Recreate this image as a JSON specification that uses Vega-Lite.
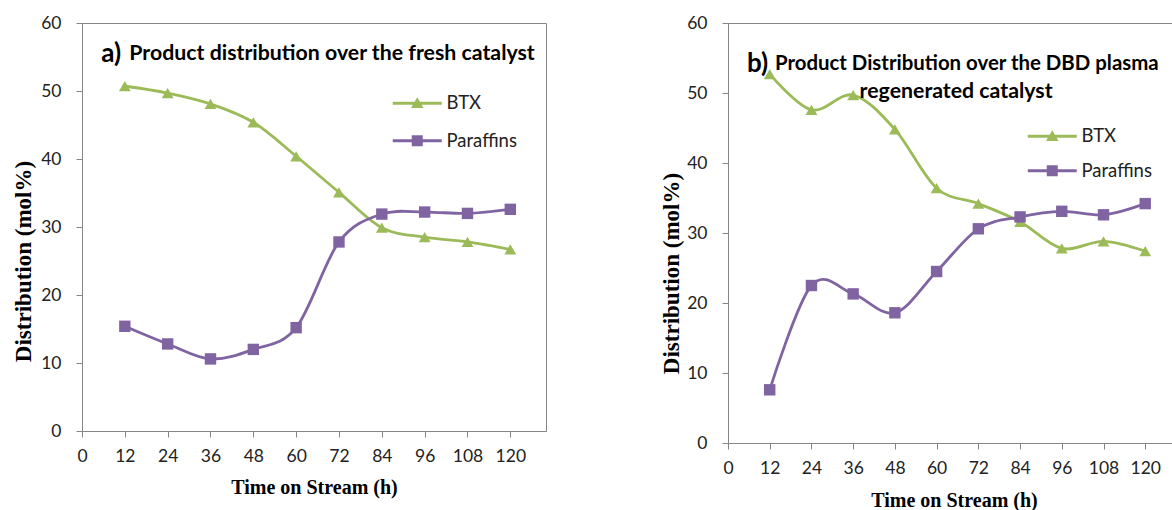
{
  "$schema": "https://vega.github.io/schema/vega-lite/v6.json",
  "background": "white",
  "padding": {"left": 11, "top": 13, "right": 0, "bottom": 0},
  "spacing": 113,
  "config": {
    "view": {"stroke": "#868686", "strokeWidth": 1},
    "axis": {
      "grid": false,
      "domainColor": "#868686",
      "tickColor": "#868686",
      "tickSize": 6,
      "labelFont": "Lato",
      "labelFontSize": 17.5,
      "labelColor": "#222222",
      "titleFont": "Liberation Serif",
      "titleFontSize": 20,
      "titleFontWeight": "bold",
      "titleColor": "#000000"
    },
    "legend": {
      "labelFont": "Lato",
      "labelFontSize": 18.5,
      "labelColor": "#222222"
    }
  },
  "datasets": {
    "fresh": [
      {"t": 12, "series": "BTX", "v": 50.7},
      {"t": 24, "series": "BTX", "v": 49.7},
      {"t": 36, "series": "BTX", "v": 48.1},
      {"t": 48, "series": "BTX", "v": 45.4},
      {"t": 60, "series": "BTX", "v": 40.4},
      {"t": 72, "series": "BTX", "v": 35.1},
      {"t": 84, "series": "BTX", "v": 29.9},
      {"t": 96, "series": "BTX", "v": 28.5},
      {"t": 108, "series": "BTX", "v": 27.8},
      {"t": 120, "series": "BTX", "v": 26.7},
      {"t": 12, "series": "Paraffins", "v": 15.4},
      {"t": 24, "series": "Paraffins", "v": 12.8},
      {"t": 36, "series": "Paraffins", "v": 10.6},
      {"t": 48, "series": "Paraffins", "v": 12.0},
      {"t": 60, "series": "Paraffins", "v": 15.2},
      {"t": 72, "series": "Paraffins", "v": 27.8},
      {"t": 84, "series": "Paraffins", "v": 31.9},
      {"t": 96, "series": "Paraffins", "v": 32.2},
      {"t": 108, "series": "Paraffins", "v": 32.0},
      {"t": 120, "series": "Paraffins", "v": 32.6}
    ],
    "regen": [
      {"t": 12, "series": "BTX", "v": 52.7},
      {"t": 24, "series": "BTX", "v": 47.6},
      {"t": 36, "series": "BTX", "v": 49.7},
      {"t": 48, "series": "BTX", "v": 44.8},
      {"t": 60, "series": "BTX", "v": 36.4},
      {"t": 72, "series": "BTX", "v": 34.2},
      {"t": 84, "series": "BTX", "v": 31.6},
      {"t": 96, "series": "BTX", "v": 27.8},
      {"t": 108, "series": "BTX", "v": 28.8},
      {"t": 120, "series": "BTX", "v": 27.4},
      {"t": 12, "series": "Paraffins", "v": 7.6},
      {"t": 24, "series": "Paraffins", "v": 22.5},
      {"t": 36, "series": "Paraffins", "v": 21.3},
      {"t": 48, "series": "Paraffins", "v": 18.6},
      {"t": 60, "series": "Paraffins", "v": 24.5},
      {"t": 72, "series": "Paraffins", "v": 30.6},
      {"t": 84, "series": "Paraffins", "v": 32.3},
      {"t": 96, "series": "Paraffins", "v": 33.1},
      {"t": 108, "series": "Paraffins", "v": 32.6},
      {"t": 120, "series": "Paraffins", "v": 34.2}
    ],
    "titlesA": [
      {"tx": 5.4, "ty": 55.5, "label": "a)", "size": 26},
      {"tx": 13.25, "ty": 55.5, "label": "Product distribution over the fresh catalyst", "size": 21.3}
    ],
    "titlesB": [
      {"tx": 5.46, "ty": 54.2, "label": "b)", "size": 26},
      {"tx": 13.5, "ty": 54.2, "label": "Product Distribution over the DBD plasma", "size": 20.4}
    ],
    "titlesB2": [
      {"tx": 65.6, "ty": 50.2, "label": "regenerated catalyst", "size": 21.3}
    ]
  },
  "resolve": {"scale": {"color": "independent", "x": "independent", "y": "independent"}, "legend": {"color": "independent"}},
  "hconcat": [
    {
      "width": 464,
      "height": 408,
      "layer": [
        {
          "data": {"name": "fresh"},
          "mark": {"type": "line", "interpolate": "cardinal", "strokeWidth": 2.8},
          "encoding": {
            "x": {"field": "t", "type": "quantitative", "scale": {"domain": [0, 130], "nice": false, "zero": false},
                  "axis": {"values": [0,12,24,36,48,60,72,84,96,108,120], "title": "Time on Stream (h)", "labelPadding": 10, "titlePadding": 13, "labelFlush": false}},
            "y": {"field": "v", "type": "quantitative", "scale": {"domain": [0, 60], "nice": false},
                  "axis": {"values": [0,10,20,30,40,50,60], "title": "Distribution (mol%)", "titleFontSize": 23, "labelPadding": 15, "titleX": -58.7, "titleY": 238, "titleBaseline": "middle"}},
            "color": {"field": "series", "type": "nominal",
                      "scale": {"domain": ["BTX", "Paraffins"], "range": ["#9BBB59", "#8064A2"]},
                      "legend": {"title": null, "orient": "none", "legendX": 326, "legendY": 71, "padding": 0,
                                 "symbolSize": 100, "symbolStrokeWidth": 0, "labelOffset": 20, "rowPadding": 18.5,
                                 "encode": {"symbols": {"update": {
                                   "shape": {"signal": "datum.value === 'BTX' ? 'M-4.9,-0.28H4.9V0.28H-4.9ZM0,-1.2L1.25,0.95L-1.25,0.95Z' : 'M-4.9,-0.28H4.9V0.28H-4.9ZM-1.1,-1.1H1.1V1.1H-1.1Z'"},
                                   "fill": {"signal": "datum.value === 'BTX' ? '#9BBB59' : '#8064A2'"},
                                   "strokeWidth": {"value": 0},
                                   "opacity": {"value": 1}, "fillOpacity": {"value": 1}}}}}}
          }
        },
        {
          "data": {"name": "fresh"},
          "transform": [{"filter": "datum.series === 'BTX'"}],
          "mark": {"type": "point", "filled": true, "opacity": 1, "shape": "triangle-up", "size": 140},
          "encoding": {
            "x": {"field": "t", "type": "quantitative"},
            "y": {"field": "v", "type": "quantitative"},
            "color": {"field": "series", "type": "nominal", "legend": null}
          }
        },
        {
          "data": {"name": "fresh"},
          "transform": [{"filter": "datum.series === 'Paraffins'"}],
          "mark": {"type": "point", "filled": true, "opacity": 1, "shape": "square", "size": 130},
          "encoding": {
            "x": {"field": "t", "type": "quantitative"},
            "y": {"field": "v", "type": "quantitative"},
            "color": {"field": "series", "type": "nominal", "legend": null}
          }
        },
        {
          "data": {"name": "titlesA"},
          "mark": {"type": "text", "font": "Lato", "fontWeight": "bold", "align": "left", "baseline": "middle", "color": "#000000"},
          "encoding": {
            "x": {"field": "tx", "type": "quantitative"},
            "y": {"field": "ty", "type": "quantitative"},
            "text": {"field": "label"},
            "size": {"field": "size", "type": "quantitative", "scale": null}
          }
        }
      ]
    },
    {
      "width": 452,
      "height": 420,
      "layer": [
        {
          "data": {"name": "regen"},
          "mark": {"type": "line", "interpolate": "cardinal", "strokeWidth": 2.8},
          "encoding": {
            "x": {"field": "t", "type": "quantitative", "scale": {"domain": [0, 130], "nice": false, "zero": false},
                  "axis": {"values": [0,12,24,36,48,60,72,84,96,108,120], "title": "Time on Stream (h)", "labelPadding": 10, "titlePadding": 14, "labelFlush": false}},
            "y": {"field": "v", "type": "quantitative", "scale": {"domain": [0, 60], "nice": false},
                  "axis": {"values": [0,10,20,30,40,50,60], "title": "Distribution (mol%)", "titleFontSize": 23, "labelPadding": 15, "titleX": -56.3, "titleY": 250, "titleBaseline": "middle"}},
            "color": {"field": "series", "type": "nominal",
                      "scale": {"domain": ["BTX", "Paraffins"], "range": ["#9BBB59", "#8064A2"]},
                      "legend": {"title": null, "orient": "none", "legendX": 315, "legendY": 104, "padding": 0,
                                 "symbolSize": 100, "symbolStrokeWidth": 0, "labelOffset": 20, "rowPadding": 15.5,
                                 "encode": {"symbols": {"update": {
                                   "shape": {"signal": "datum.value === 'BTX' ? 'M-4.9,-0.28H4.9V0.28H-4.9ZM0,-1.2L1.25,0.95L-1.25,0.95Z' : 'M-4.9,-0.28H4.9V0.28H-4.9ZM-1.1,-1.1H1.1V1.1H-1.1Z'"},
                                   "fill": {"signal": "datum.value === 'BTX' ? '#9BBB59' : '#8064A2'"},
                                   "strokeWidth": {"value": 0},
                                   "opacity": {"value": 1}, "fillOpacity": {"value": 1}}}}}}
          }
        },
        {
          "data": {"name": "regen"},
          "transform": [{"filter": "datum.series === 'BTX'"}],
          "mark": {"type": "point", "filled": true, "opacity": 1, "shape": "triangle-up", "size": 140},
          "encoding": {
            "x": {"field": "t", "type": "quantitative"},
            "y": {"field": "v", "type": "quantitative"},
            "color": {"field": "series", "type": "nominal", "legend": null}
          }
        },
        {
          "data": {"name": "regen"},
          "transform": [{"filter": "datum.series === 'Paraffins'"}],
          "mark": {"type": "point", "filled": true, "opacity": 1, "shape": "square", "size": 130},
          "encoding": {
            "x": {"field": "t", "type": "quantitative"},
            "y": {"field": "v", "type": "quantitative"},
            "color": {"field": "series", "type": "nominal", "legend": null}
          }
        },
        {
          "data": {"name": "titlesB"},
          "mark": {"type": "text", "font": "Lato", "fontWeight": "bold", "align": "left", "baseline": "middle", "color": "#000000"},
          "encoding": {
            "x": {"field": "tx", "type": "quantitative"},
            "y": {"field": "ty", "type": "quantitative"},
            "text": {"field": "label"},
            "size": {"field": "size", "type": "quantitative", "scale": null}
          }
        },
        {
          "data": {"name": "titlesB2"},
          "mark": {"type": "text", "font": "Lato", "fontWeight": "bold", "align": "center", "baseline": "middle", "color": "#000000"},
          "encoding": {
            "x": {"field": "tx", "type": "quantitative"},
            "y": {"field": "ty", "type": "quantitative"},
            "text": {"field": "label"},
            "size": {"field": "size", "type": "quantitative", "scale": null}
          }
        }
      ]
    }
  ]
}
